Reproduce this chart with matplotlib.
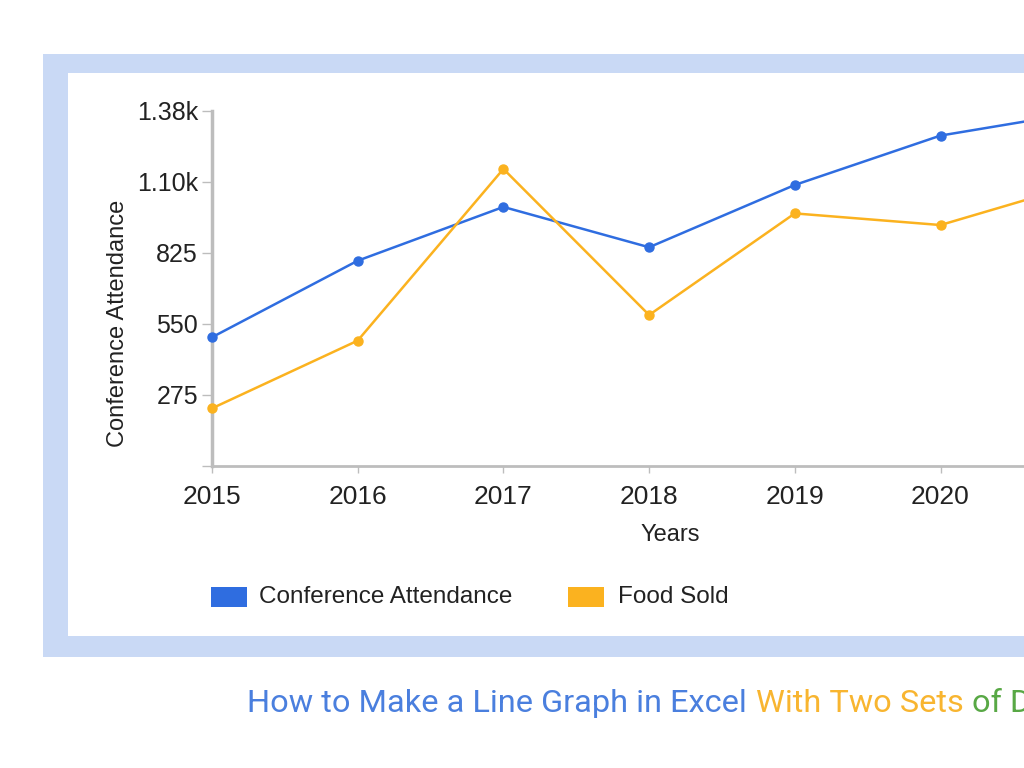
import matplotlib
matplotlib.use("Agg")
import matplotlib.pyplot as plt
from matplotlib.patches import Rectangle

# data
years = [2015, 2016, 2017, 2018, 2019, 2020, 2021]
attendance = [498, 794, 1002, 846, 1087, 1278, 1372]
food_sold = [223, 485, 1149, 584, 977, 932, 1098]
y_ticks = [0, 275, 550, 825, 1100, 1375]
y_tick_labels = ["", "275", "550", "825", "1.10k", "1.38k"]
# 2021 sits past the right edge of the cropped screenshot
x_tick_labels = ["2015", "2016", "2017", "2018", "2019", "2020", ""]
caption_parts = ["How to Make a Line Graph in Excel", "With Two Sets", "of Data"]

BLUE = "#2f6de0"
ORANGE = "#fbb21f"
FRAME = "#c9d9f5"
AXIS_GREY = "#bdbdbd"
caption_colors = ["#4a7fde", "#f8b530", "#58a845"]

W, H = 1024, 768
plt.rcParams["font.family"] = ["Liberation Sans", "DejaVu Sans"]
fig = plt.figure(figsize=(W / 100, H / 100), dpi=100)
fig.patch.set_facecolor("white")


def fx(px):
    return px / W


def fy(py):
    return 1 - py / H


# light blue frame with white card inside (runs off the right edge)
fig.patches.append(Rectangle((fx(43), fy(657)), fx(1100), (657 - 54) / H,
                             transform=fig.transFigure, facecolor=FRAME,
                             edgecolor="none", zorder=-2))
fig.patches.append(Rectangle((fx(68), fy(636)), fx(1100), (636 - 73) / H,
                             transform=fig.transFigure, facecolor="white",
                             edgecolor="none", zorder=-1))

# axes extend beyond the right edge like in the cropped screenshot
left, right = 212, 1086.2
top, bottom = 110.5, 466
ax = fig.add_axes([fx(left), fy(bottom), (right - left) / W, (bottom - top) / H])
ax.set_facecolor("none")
ax.set_zorder(1)

ax.plot(years, attendance, color=BLUE, lw=1.8, marker="o", ms=6.5,
        clip_on=False, zorder=3)
ax.plot(years, food_sold, color=ORANGE, lw=1.8, marker="o", ms=6.5,
        clip_on=False, zorder=3)

ax.set_xlim(2015, 2021)
ax.set_ylim(0, 1375)
ax.set_xticks(years)
ax.set_xticklabels(x_tick_labels, fontsize=19)
ax.set_yticks(y_ticks)
ax.set_yticklabels(y_tick_labels, fontsize=18)

for s in ["top", "right"]:
    ax.spines[s].set_visible(False)
for s in ["left", "bottom"]:
    ax.spines[s].set_color(AXIS_GREY)
ax.spines["left"].set_linewidth(2.5)
ax.spines["bottom"].set_linewidth(2)
ax.tick_params(axis="y", length=7, width=1, color=AXIS_GREY, pad=3, labelcolor="#222222")
ax.tick_params(axis="x", length=5, width=1, color=AXIS_GREY, pad=9, labelcolor="#222222")

fig.text(fx(118), fy(323), "Conference Attendance", rotation=90, fontsize=17,
         ha="center", va="center", color="#222222")
fig.text(fx(670), fy(535), "Years", fontsize=17, ha="center", va="center",
         color="#222222")

# legend drawn by hand to sit where the reference has it
fig.patches.append(Rectangle((fx(211), fy(607)), fx(36), 20 / H,
                             transform=fig.transFigure, facecolor=BLUE,
                             edgecolor="none"))
fig.text(fx(259), fy(597), "Conference Attendance", fontsize=17.5, va="center",
         color="#222222")
fig.patches.append(Rectangle((fx(568), fy(607)), fx(36), 20 / H,
                             transform=fig.transFigure, facecolor=ORANGE,
                             edgecolor="none"))
fig.text(fx(618), fy(597), "Food Sold", fontsize=17.5, va="center",
         color="#222222")

# multi-coloured caption underneath, runs off the right edge as in the reference
fig.canvas.draw()
renderer = fig.canvas.get_renderer()
x = 247
for part, col in zip(caption_parts, caption_colors):
    t = fig.text(fx(x), fy(704), part, fontsize=23.4, family="Roboto",
                 va="center", color=col)
    bb = t.get_window_extent(renderer)
    x += bb.width + 9

fig.savefig("out.png", dpi=100)
